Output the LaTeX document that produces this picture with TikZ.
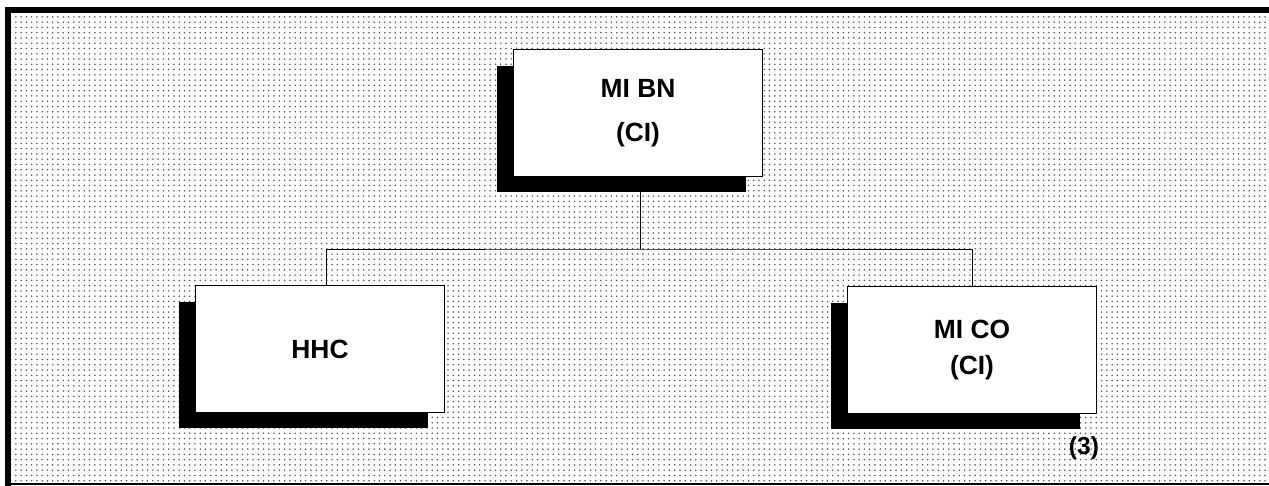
\documentclass[tikz,border=0pt]{standalone}
\usepackage{fontspec}
\setmainfont{Liberation Sans}
\usetikzlibrary{shadows,patterns,positioning}

\begin{document}
\begin{tikzpicture}[
    x=0.02cm, y=-0.02cm,
    unit/.style={rectangle, draw, line width=0.5pt, fill=white, minimum width=4.98cm, minimum height=2.54cm, align=center, font=\fontsize{15}{25}\selectfont\bfseries,
        drop shadow={shadow xshift=-0.33cm, shadow yshift=-0.32cm, opacity=1, fill=black}},
    link/.style={draw, line width=0.5pt},
    note/.style={font=\fontsize{14}{16}\selectfont\bfseries}
]

% Background and frame
\useasboundingbox (0,0) rectangle (1269,486);
\fill[pattern=dots, pattern color=black!65] (8,10) rectangle (1269,484);
\draw[line width=3pt] (8,486) -- (8,10) -- (1269,10);
\draw[line width=0.6pt] (8,484) -- (1269,484);

% Units
\node[unit] (bn) at (638,113) {MI BN\\(CI)};
\node[unit] (hhc) at (320,349) {HHC};
\node[unit, font=\fontsize{15}{20}\selectfont\bfseries] (co) at (972,350) {MI CO\\(CI)};
\node[note] (num) at (1084,448) {(3)};

% Connections
\coordinate (split) at (640,249);
\draw[link] (bn.south -| split) -- (split);
\draw[link] ([xshift=0.12cm]hhc.north) |- (split) -| (co.north);

\end{tikzpicture}
\end{document}
